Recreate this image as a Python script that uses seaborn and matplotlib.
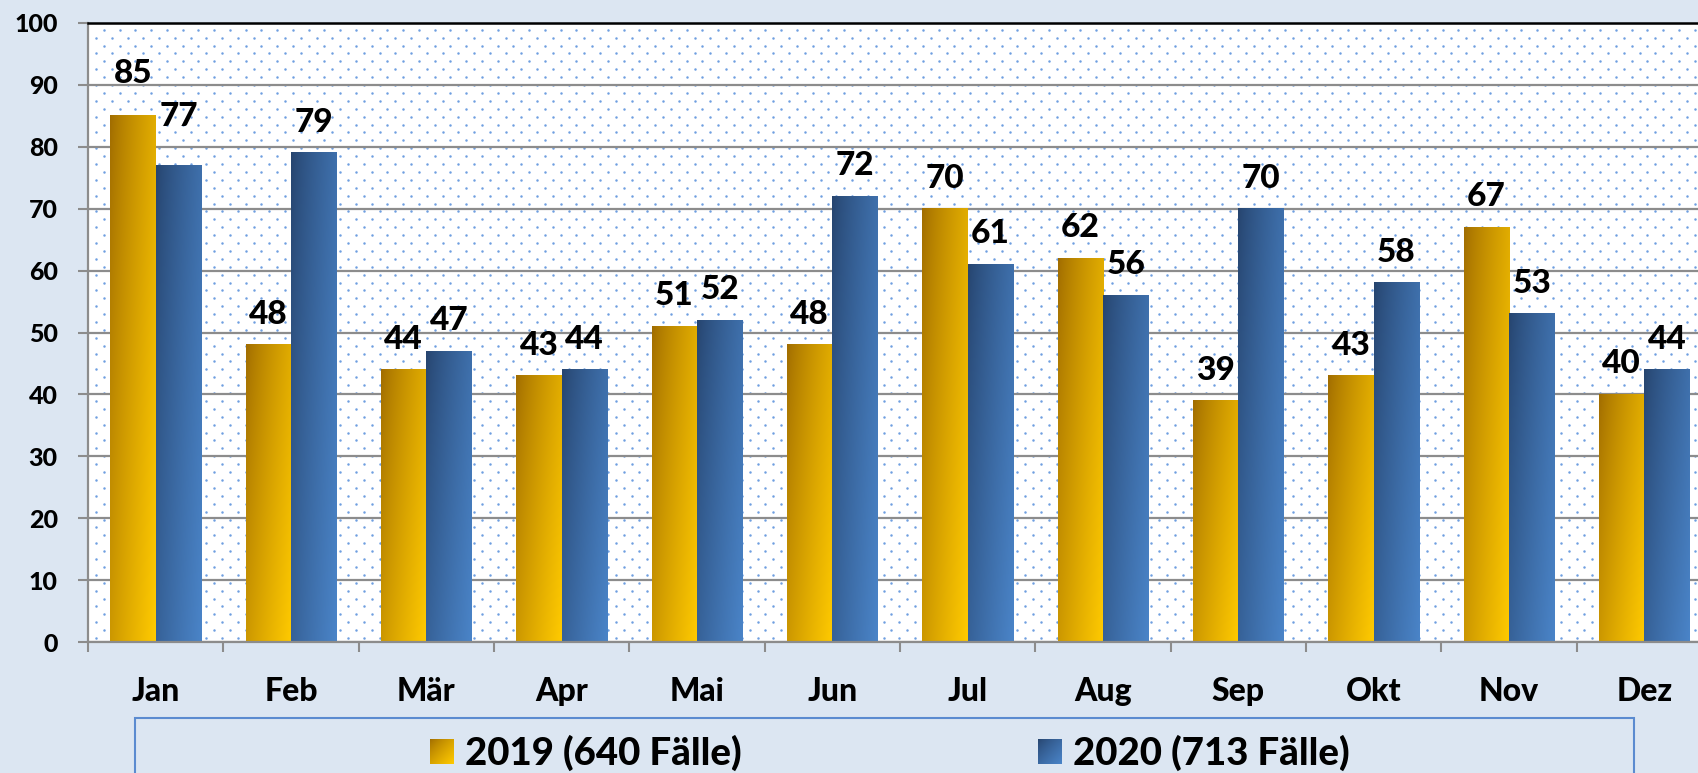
import numpy as np
import pandas as pd
import matplotlib
matplotlib.use("Agg")
import matplotlib.pyplot as plt
import seaborn as sns
from matplotlib.patches import Patch, Rectangle
from matplotlib.legend_handler import HandlerBase
from matplotlib.image import BboxImage
from matplotlib.transforms import Bbox, TransformedBbox
from matplotlib.font_manager import FontProperties

# ---------------- data ----------------
months = ["Jan", "Feb", "Mär", "Apr", "Mai", "Jun", "Jul", "Aug", "Sep", "Okt", "Nov", "Dez"]
values_2019 = [85, 48, 44, 43, 51, 48, 70, 62, 39, 43, 67, 40]
values_2020 = [77, 79, 47, 44, 52, 72, 61, 56, 70, 58, 53, 44]
series_labels = ["2019 (640 Fälle)", "2020 (713 Fälle)"]
y_ticks = [0, 10, 20, 30, 40, 50, 60, 70, 80, 90, 100]

# ---------------- style ----------------
sns.set_theme(style="white")
plt.rcParams["font.family"] = ["Lato", "DejaVu Sans"]
plt.rcParams["font.weight"] = "black"
plt.rcParams["text.color"] = "black"
WEIGHT = "black"

BG = "#dce6f2"
GRID = "#8c8c8c"
GOLD = ("#a06c00", "#ffca00")
BLUE = ("#26446e", "#4a84c8")

W_PX, H_PX = 1698, 773
fig = plt.figure(figsize=(W_PX / 100, H_PX / 100), dpi=100, facecolor=BG)
left, right = 88 / W_PX, 1712 / W_PX
bottom, top = 1 - 642 / H_PX, 1 - 23 / H_PX
ax = fig.add_axes([left, bottom, right - left, top - bottom])
ax.set_facecolor("white")

df = pd.DataFrame({
    "month": months * 2,
    "value": values_2019 + values_2020,
    "series": [series_labels[0]] * len(months) + [series_labels[1]] * len(months),
})

sns.barplot(data=df, x="month", y="value", hue="series", order=months,
            hue_order=series_labels, palette=[GOLD[1], BLUE[1]], saturation=1,
            width=0.672, dodge=True, ax=ax, legend=False, errorbar=None,
            linewidth=0)


def gradient(c0, c1, n=64, wx=0.62, wy=0.38):
    a = np.array(matplotlib.colors.to_rgb(c0))
    b = np.array(matplotlib.colors.to_rgb(c1))
    u = np.linspace(0, 1, n)[None, :]
    v = np.linspace(0, 1, n)[:, None]
    t = (wx * u + wy * v) / (wx + wy)
    t = t ** 0.8
    return a[None, None, :] * (1 - t[..., None]) + b[None, None, :] * t[..., None]


# gradient fill for each bar
for i, bar in enumerate(ax.patches):
    x0, w = bar.get_x(), bar.get_width()
    h = bar.get_height()
    cols = GOLD if i < len(months) else BLUE
    ax.imshow(gradient(*cols), extent=(x0, x0 + w, 0, h), aspect="auto",
              interpolation="bilinear", zorder=1.5)

# value labels
label_nudge_px = {(0, 0): 12, (1, 0): 18}
for i, bar in enumerate(ax.patches):
    s = 0 if i < len(months) else 1
    k = i % len(months)
    h = bar.get_height()
    extra = label_nudge_px.get((s, k), 0)
    ax.annotate(f"{int(round(h))}", xy=(bar.get_x() + bar.get_width() / 2, h),
                xytext=(0, (21 + extra) * 0.72), textcoords="offset points",
                ha="center", va="baseline", fontsize=24, fontweight=WEIGHT,
                color="black", zorder=4)

ax.set_xlim(-0.5, len(months) - 0.5)
ax.set_ylim(0, 100)
ax.set_yticks(y_ticks)
ax.set_xticks(range(len(months)))
ax.set_xticklabels(months)
ax.set_xticks(np.arange(-0.5, len(months), 1.0), minor=True)
ax.set_xlabel("")
ax.set_ylabel("")

# dotted background pattern
ax_w = (right - left) * W_PX
ax_h = (top - bottom) * H_PX
dx, dy = 15.75, 7.9
px, py = [], []
r = 0
yy = 4.0
while yy < ax_h:
    off = 8.0 + (r % 2) * dx / 2
    xs = np.arange(off, ax_w, dx)
    px.extend(xs)
    py.extend([yy] * len(xs))
    yy += dy
    r += 1
ax.scatter(np.array(px) / ax_w, np.array(py) / ax_h, s=3.2, color="#6f9fe0",
           linewidths=0, transform=ax.transAxes, zorder=0.2, clip_on=True)

# grid & spines
ax.set_axisbelow(True)
ax.yaxis.grid(True, color=GRID, linewidth=1.6)
ax.xaxis.grid(False)
for side in ["left", "bottom"]:
    ax.spines[side].set_color(GRID)
    ax.spines[side].set_linewidth(1.6)
ax.spines["top"].set_color("black")
ax.spines["top"].set_linewidth(1.8)
ax.spines["right"].set_visible(False)

ax.tick_params(axis="y", which="major", direction="out", length=7.2, width=1.5,
               color=GRID, pad=14.5, labelsize=18, left=True)
ax.tick_params(axis="x", which="major", length=0, pad=25, labelsize=23, bottom=True)
ax.tick_params(axis="x", which="minor", direction="out", length=7.2, width=1.5,
               color=GRID, bottom=True)
for lab in ax.get_xticklabels() + ax.get_yticklabels():
    lab.set_fontweight(WEIGHT)
    lab.set_color("black")


# legend with gradient squares
class GradientHandler(HandlerBase):
    def __init__(self, c0, c1):
        super().__init__()
        self.c0, self.c1 = c0, c1

    def create_artists(self, legend, orig_handle, xdescent, ydescent, width,
                       height, fontsize, trans):
        bb = Bbox.from_bounds(-xdescent, -ydescent, width, height)
        tbb = TransformedBbox(bb, trans)
        img = BboxImage(tbb, interpolation="bilinear")
        img.set_data(gradient(self.c0, self.c1, wx=0.5, wy=0.5))
        return [img]


LEG_SIZE = 27.6
leg_px = LEG_SIZE * 100 / 72
h1 = Patch(color=GOLD[1])
h2 = Patch(color=BLUE[1])
fig.legend([h1, h2], series_labels, loc="center left",
           bbox_to_anchor=(430 / W_PX, 1 - 753 / H_PX), ncol=2, frameon=False,
           borderpad=0, borderaxespad=0, handlelength=24 / leg_px,
           handleheight=24 / leg_px, handletextpad=11 / leg_px,
           columnspacing=296 / leg_px, labelcolor="black",
           prop=FontProperties(family=["Lato", "DejaVu Sans"], weight=WEIGHT,
                               size=LEG_SIZE),
           handler_map={h1: GradientHandler(*GOLD), h2: GradientHandler(*BLUE)})

fig.patches.append(Rectangle((135 / W_PX, -0.05), (1634 - 135) / W_PX,
                             (H_PX - 718) / H_PX + 0.05, transform=fig.transFigure,
                             facecolor="none", edgecolor="#5b8bd0", linewidth=1.5,
                             figure=fig))

fig.savefig("out.png", dpi=100, facecolor=BG)
